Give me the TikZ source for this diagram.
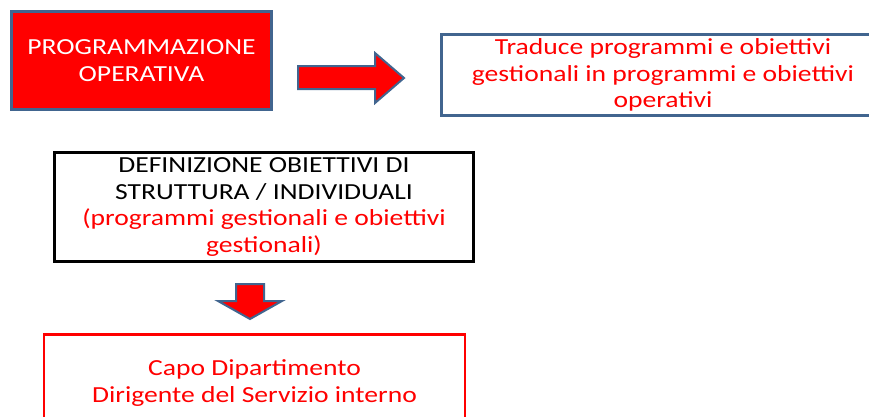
\documentclass[tikz,border=0pt]{standalone}
\usepackage{fontspec}
\setmainfont[FakeStretch=1.2]{Carlito}
\usetikzlibrary{positioning}
\definecolor{ppblue}{HTML}{41658F}
\definecolor{ppred}{HTML}{FF0000}
\tikzset{txt/.style={font=\fontsize{23}{26.5}\selectfont, align=center, inner sep=0pt}}
\tikzset{opbox/.style={txt, draw=ppblue, line width=2.5pt, fill=ppred, text=white, minimum width=260pt, minimum height=98pt}}
\tikzset{descbox/.style={txt, draw=ppblue, line width=2.5pt, text=ppred, minimum width=443pt, minimum height=81pt}}
\tikzset{defbox/.style={txt, draw=black, line width=2.5pt, minimum width=419pt, minimum height=109pt}}
\tikzset{rolebox/.style={txt, draw=ppred, line width=2.5pt, text=ppred, minimum width=421pt, minimum height=97pt}}
\tikzset{blockarr/.style={draw=ppblue, line width=2pt, fill=ppred, line join=miter}}
\begin{document}
\begin{tikzpicture}[x=1pt,y=-1pt]
  \path[use as bounding box, clip] (0,0) rectangle (869,416);
  % boxes
  \node[opbox] (prog) at (141.5,60.5) {PROGRAMMAZIONE\\OPERATIVA};
  \node[descbox] (trad) at (663,75) {Traduce programmi e obiettivi\\gestionali in programmi e obiettivi\\operativi};
  \node[defbox] (defi) at (264,207) {DEFINIZIONE OBIETTIVI DI\\STRUTTURA / INDIVIDUALI\\\textcolor{ppred}{(programmi gestionali e obiettivi}\\\textcolor{ppred}{gestionali)}};
  \node[rolebox] (capo) at (254.5,383) {Capo Dipartimento\\Dirigente del Servizio interno};
  % block arrows
  \draw[blockarr] (298,66) -- (375,66) -- (375,53) -- (404,78) -- (375,103) -- (375,89) -- (298,89) -- cycle;
  \draw[blockarr] (236,284) -- (264,284) -- (264,301) -- (282,301) -- (250,319) -- (218,301) -- (236,301) -- cycle;
\end{tikzpicture}
\end{document}
